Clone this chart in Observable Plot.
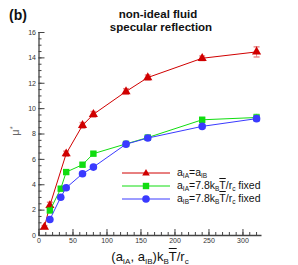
<!DOCTYPE html>
<html><head><meta charset="utf-8">
<script src="https://cdn.jsdelivr.net/npm/d3@7"></script>
<script src="https://cdn.jsdelivr.net/npm/@observablehq/plot@0.6"></script>
<style>
body{margin:0;background:#fff;font-family:"Liberation Sans",Arial,Helvetica,sans-serif}
#wrap{position:relative;width:298px;height:265px;overflow:hidden}
#wrap svg{position:absolute;left:0;top:0}
.t{position:absolute;white-space:nowrap;color:#111}
sub{font-size:0.62em;vertical-align:baseline;position:relative;top:0.32em}
.ov{text-decoration:overline}
</style></head><body>
<div id="wrap"></div>
<script>
// series: a_IA = a_IB
const xRed = [8, 16, 40, 64, 80, 128, 160, 240, 320];
const yRed = [0.66, 2.37, 6.45, 8.68, 9.55, 11.35, 12.45, 13.97, 14.47];
const eRed = [0.12, 0.25, 0.2, 0.22, 0.22, 0.22, 0.2, 0.18, 0.4];
// series: a_IA fixed
const xGreen = [16, 32, 40, 64, 80, 128, 160, 240, 320];
const yGreen = [1.97, 3.69, 5.0, 5.58, 6.45, 7.22, 7.72, 9.12, 9.3];
const eGreen = [0.12, 0.15, 0.15, 0.15, 0.15, 0.15, 0.15, 0.18, 0.25];
// series: a_IB fixed
const xBlue = [16, 32, 40, 64, 80, 128, 160, 240, 320];
const yBlue = [1.26, 3.02, 3.76, 4.87, 5.39, 7.2, 7.68, 8.6, 9.21];
const eBlue = [0.12, 0.15, 0.15, 0.15, 0.15, 0.15, 0.15, 0.15, 0.2];

const xTicks = [0, 50, 100, 150, 200, 250, 300];
const xMinor = d3.range(0, 330, 10);
const yTicks = [0, 2, 4, 6, 8, 10, 12, 14, 16];
const yMinor = d3.range(0, 16.01, 0.5);

const cRed = "#d00000", cGreen = "#10dd10", cBlue = "#3a3aff";

const mk = (xs, ys, es) => xs.map((x, i) => ({x, y: ys[i], e: es[i]}));
const red = mk(xRed, yRed, eRed), green = mk(xGreen, yGreen, eGreen), blue = mk(xBlue, yBlue, eBlue);

const hline = {draw(ctx, size) { const w = Math.sqrt(size / Math.PI); ctx.moveTo(-w, 0); ctx.lineTo(w, 0); }};

function seriesMarks(data, color, symbol, r) {
  return [
    Plot.ruleX(data, {x: "x", y1: d => d.y - d.e, y2: d => d.y + d.e, stroke: color, strokeOpacity: 0.45}),
    Plot.dot(data, {x: "x", y: d => d.y - d.e, symbol: hline, r: 3, stroke: color, strokeOpacity: 0.45}),
    Plot.dot(data, {x: "x", y: d => d.y + d.e, symbol: hline, r: 3, stroke: color, strokeOpacity: 0.45}),
    Plot.line(data, {x: "x", y: "y", stroke: color, strokeWidth: 1}),
    Plot.dot(data, {x: "x", y: "y", symbol, r, fill: color, stroke: "none"})
  ];
}

const plot = Plot.plot({
  width: 298, height: 265,
  marginLeft: 38.5, marginRight: 36.5, marginTop: 32, marginBottom: 30,
  x: {domain: [0, 328]},
  y: {domain: [0, 16]},
  style: {fontFamily: "Liberation Sans, Arial, sans-serif", fontSize: "7px", color: "#333", background: "transparent", overflow: "visible"},
  marks: [
    Plot.axisX(xMinor, {tickSize: -3, text: null, label: null, stroke: "#444"}),
    Plot.axisX(xTicks, {tickSize: -6, tickPadding: 9, label: null, stroke: "#444", fontSize: 7, fill: "#333"}),
    Plot.axisY(yMinor, {tickSize: -3, text: null, label: null, stroke: "#444"}),
    Plot.axisY(yTicks, {tickSize: -6, tickPadding: 9, label: null, stroke: "#444", fontSize: 7, fill: "#333"}),
    Plot.ruleX([0], {stroke: "#444", strokeWidth: 1.3}),
    Plot.ruleY([0], {stroke: "#444", strokeWidth: 1.3}),
    ...seriesMarks(red, cRed, "triangle", 3.4),
    ...seriesMarks(green, cGreen, "square", 3.6),
    ...seriesMarks(blue, cBlue, "circle", 3.8)
  ]
});

const wrap = document.getElementById("wrap");
wrap.appendChild(plot);

function addText(html, css) {
  const d = document.createElement("div");
  d.className = "t";
  d.innerHTML = html;
  Object.assign(d.style, css);
  wrap.appendChild(d);
  return d;
}
addText("(b)", {left: "9px", top: "7.5px", fontSize: "14px", lineHeight: "14px", fontWeight: "bold"});
addText("non-ideal fluid", {left: "158px", top: "8px", transform: "translateX(-50%)", fontSize: "11.5px", lineHeight: "12.85px", fontWeight: "bold"});
addText("specular reflection", {left: "161px", top: "21px", transform: "translateX(-50%)", fontSize: "11.5px", lineHeight: "12.85px", fontWeight: "bold"});
addText("(a<sub>IA</sub>, a<sub>IB</sub>)k<sub>B</sub><span class='ov'>T</span>/r<sub>c</sub>", {left: "150px", top: "250px", transform: "translateX(-50%)", fontSize: "13px", lineHeight: "13px"});
addText("μ<sup style='font-size:0.7em'>*</sup>", {left: "14px", top: "131px", transform: "translate(-50%,-50%) rotate(-90deg)", fontSize: "11px", lineHeight: "11px", color: "#666"});

// legend
const legend = [
  {label: "a<sub>IA</sub>=a<sub>IB</sub>", color: cRed, sym: "tri", y: 173},
  {label: "a<sub>IA</sub>=7.8k<sub>B</sub><span class='ov'>T</span>/r<sub>c</sub> fixed", color: cGreen, sym: "sq", y: 186},
  {label: "a<sub>IB</sub>=7.8k<sub>B</sub><span class='ov'>T</span>/r<sub>c</sub> fixed", color: cBlue, sym: "ci", y: 199}
];
const lsvg = d3.create("svg").attr("width", 298).attr("height", 265).style("position", "absolute").style("left", 0).style("top", 0);
legend.forEach(l => {
  lsvg.append("line").attr("x1", 122).attr("x2", 170).attr("y1", l.y).attr("y2", l.y).attr("stroke", l.color).attr("stroke-width", 1);
  const cx = 146;
  if (l.sym === "tri") lsvg.append("path").attr("d", `M${cx},${l.y-4}L${cx+3.8},${l.y+2.6}L${cx-3.8},${l.y+2.6}Z`).attr("fill", l.color);
  if (l.sym === "sq") lsvg.append("rect").attr("x", cx-3.2).attr("y", l.y-3.2).attr("width", 6.4).attr("height", 6.4).attr("fill", l.color);
  if (l.sym === "ci") lsvg.append("circle").attr("cx", cx).attr("cy", l.y).attr("r", 3.8).attr("fill", l.color);
  addText(l.label, {left: "177px", top: (l.y - 7) + "px", fontSize: "10.5px", lineHeight: "13px"});
});
wrap.appendChild(lsvg.node());
</script>
</body></html>
